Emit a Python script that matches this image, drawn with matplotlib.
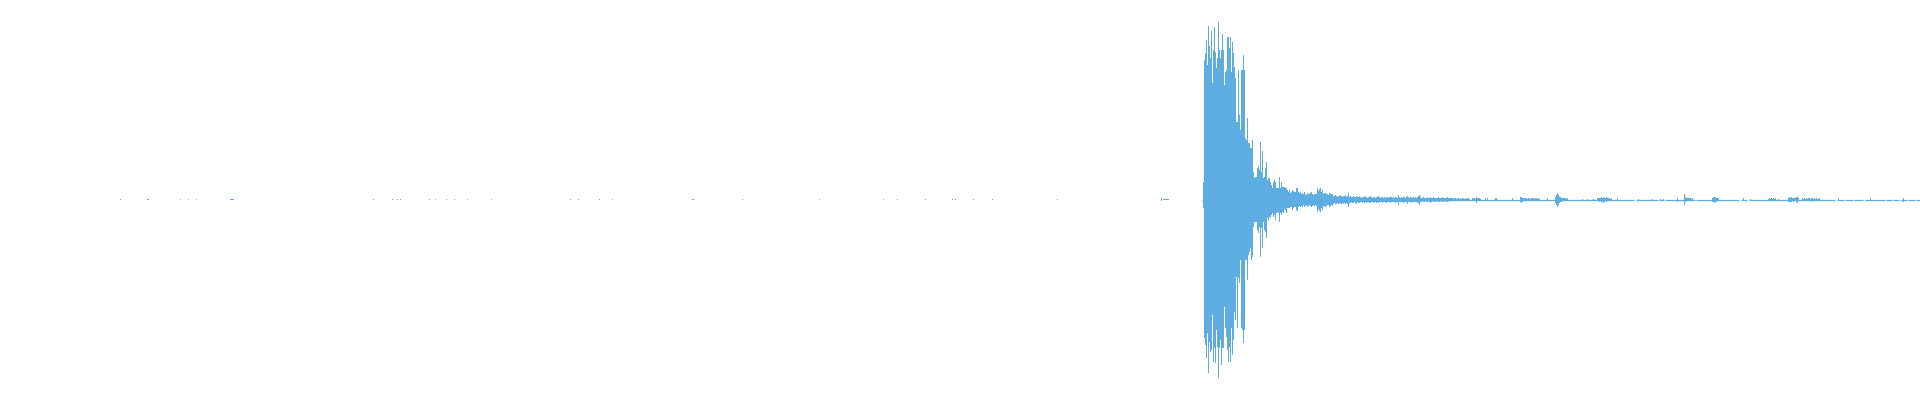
import matplotlib
matplotlib.use("Agg")
import matplotlib.pyplot as plt

# ---------------- data (waveform peaks per sample column, amplitude -1..1) ----------------
COLOR = "#5DADE2"
n_columns = 1920

# isolated tiny clicks before the main event: (column, width, amplitude)
click_x = [120, 147, 180, 188, 196, 230, 373, 392, 397, 400, 429, 435, 446, 454, 467,
           491, 570, 578, 599, 612, 692, 742, 819, 883, 897, 925, 952, 955, 973, 992,
           1057, 1161, 1163]
click_w = [1, 2, 1, 1, 1, 4, 1, 1, 1, 1, 1, 1, 1, 1, 1,
           1, 1, 1, 1, 1, 2, 1, 1, 1, 1, 1, 1, 1, 1, 1,
           1, 1, 6]
click_a = [0.003] * 31 + [0.008, 0.003]

# main burst: positive / negative peak per column starting at column 1203
burst_start = 1203
burst_max = [0.09, 0.70, 0.735, 0.80, 0.675, 0.87, 0.77, 0.71, 0.845, 0.585,
             0.75, 0.865, 0.74, 0.66, 0.71, 0.89, 0.75, 0.71, 0.75, 0.83,
             0.75, 0.575, 0.64, 0.65, 0.815, 0.815, 0.76, 0.815, 0.64, 0.79,
             0.735, 0.66, 0.61, 0.39, 0.39, 0.65, 0.425, 0.35, 0.65, 0.65,
             0.725, 0.65, 0.31, 0.30, 0.41, 0.285, 0.285, 0.26, 0.26, 0.30,
             0.14, 0.11, 0.115, 0.115, 0.16, 0.17, 0.15, 0.29, 0.14, 0.245,
             0.11, 0.115, 0.16, 0.19, 0.10, 0.11, 0.11, 0.09, 0.075, 0.06,
             0.09, 0.10, 0.09, 0.06, 0.06, 0.06, 0.115, 0.06, 0.09, 0.065,
             0.065, 0.065, 0.06, 0.06, 0.05, 0.04, 0.05, 0.035, 0.04, 0.05,
             0.045, 0.04, 0.04, 0.06, 0.057, 0.04, 0.035]
burst_min = [-0.04, -0.69, -0.725, -0.79, -0.665, -0.865, -0.71, -0.76, -0.75, -0.575,
             -0.81, -0.74, -0.815, -0.65, -0.735, -0.89, -0.74, -0.70, -0.825, -0.74,
             -0.74, -0.535, -0.64, -0.685, -0.75, -0.81, -0.735, -0.81, -0.64, -0.775,
             -0.70, -0.56, -0.60, -0.385, -0.64, -0.39, -0.415, -0.30, -0.64, -0.65,
             -0.715, -0.65, -0.30, -0.30, -0.40, -0.275, -0.26, -0.24, -0.30, -0.285,
             -0.135, -0.11, -0.11, -0.11, -0.15, -0.165, -0.135, -0.285, -0.14, -0.24,
             -0.11, -0.15, -0.16, -0.19, -0.09, -0.10, -0.085, -0.09, -0.075, -0.065,
             -0.085, -0.075, -0.10, -0.065, -0.06, -0.065, -0.11, -0.065, -0.075, -0.06,
             -0.065, -0.045, -0.05, -0.065, -0.04, -0.04, -0.04, -0.035, -0.035, -0.05,
             -0.04, -0.035, -0.035, -0.05, -0.057, -0.035, -0.03]

# decaying tail: symmetric peak per column starting at column 1300
tail_start = 1300
tail_amp = [0.036, 0.03, 0.035, 0.028, 0.036, 0.03, 0.025, 0.035, 0.03, 0.028,
            0.032, 0.036, 0.03, 0.025, 0.03, 0.028, 0.03, 0.06, 0.045, 0.055,
            0.06, 0.04, 0.05, 0.03, 0.032, 0.035, 0.03, 0.028, 0.025, 0.035,
            0.03, 0.028, 0.03, 0.02, 0.018, 0.022, 0.02, 0.015, 0.02, 0.018,
            0.022, 0.02, 0.015, 0.02, 0.018, 0.022, 0.015, 0.02, 0.035, 0.015,
            0.018, 0.012, 0.015, 0.018, 0.012, 0.015, 0.02, 0.012, 0.015, 0.018,
            0.012, 0.01, 0.015, 0.012, 0.018, 0.012, 0.015, 0.01, 0.012, 0.015,
            0.018, 0.012, 0.01, 0.015, 0.012, 0.01, 0.015, 0.012, 0.018, 0.012,
            0.01, 0.012, 0.015, 0.01, 0.012, 0.01, 0.015, 0.012, 0.01, 0.012,
            0.015, 0.012, 0.01, 0.012, 0.01, 0.015, 0.012, 0.01, 0.025, 0.012,
            0.01, 0.012, 0.01, 0.015, 0.012, 0.01, 0.012, 0.02, 0.012, 0.01,
            0.012, 0.015, 0.01, 0.012, 0.01, 0.012, 0.01, 0.015, 0.018, 0.025]

# later small events: start column and per-column peak amplitudes
event_start = [1420, 1472, 1485, 1487, 1495, 1512, 1520, 1524, 1547, 1555,
               1582, 1587, 1593, 1597, 1617, 1638, 1652, 1660, 1663, 1677,
               1684, 1712, 1743, 1750, 1768, 1778, 1788, 1802, 1838, 1870, 1903]
event_amps = [
    [0.012, 0.01, 0.008, 0.012, 0.01, 0.008, 0.01, 0.012, 0.008, 0.01,
     0.015, 0.01, 0.008, 0.012, 0.01, 0.008, 0.01, 0.008, 0.012, 0.01,
     0.008, 0.01, 0.012, 0.008, 0.01, 0.008, 0.01, 0.012, 0.008, 0.01,
     0.006, 0.008, 0.006, 0.005, 0.008, 0.006, 0.005, 0.006, 0.008, 0.005,
     0.006, 0.005, 0.008, 0.006, 0.005, 0.006, 0.005, 0.008, 0.006, 0.005],
    [0.008, 0.006, 0.008, 0.005, 0.015, 0.008, 0.006, 0.008, 0.005],
    [0.006], [0.006], [0.006, 0.006], [0.006],
    [0.012, 0.015, 0.01, 0.008],
    [0.006, 0.008, 0.006, 0.005, 0.006, 0.008, 0.005, 0.006, 0.008, 0.006,
     0.005, 0.006, 0.008, 0.005, 0.006, 0.005],
    [0.006],
    [0.015, 0.025, 0.035, 0.025, 0.015, 0.012, 0.01, 0.008, 0.006, 0.008, 0.006, 0.005, 0.006],
    [0.005], [0.005], [0.005],
    [0.006, 0.008, 0.01, 0.008, 0.012, 0.01, 0.015, 0.01, 0.008, 0.012, 0.006, 0.008, 0.006, 0.005, 0.006],
    [0.006], [0.005], [0.005], [0.005], [0.005], [0.01],
    [0.028, 0.012, 0.008, 0.008, 0.006, 0.006, 0.006, 0.005, 0.006],
    [0.01, 0.012, 0.015, 0.012, 0.01, 0.008, 0.006],
    [0.006], [0.005],
    [0.005, 0.006, 0.005, 0.006, 0.005, 0.006, 0.005, 0.006],
    [0.005],
    [0.01, 0.012, 0.01, 0.012, 0.008, 0.01, 0.008, 0.006, 0.012, 0.015, 0.008],
    [0.006, 0.005, 0.006, 0.005, 0.006, 0.005, 0.008, 0.006, 0.005, 0.01,
     0.006, 0.005, 0.006, 0.005, 0.006, 0.005, 0.005, 0.006],
    [0.006], [0.008], [0.01],
]

# zero line after the event starts, with short gaps where samples are exactly silent
line_start = 1202
line_gaps = [(1634, 1636), (1658, 1659), (1664, 1665), (1695, 1696), (1739, 1741),
             (1747, 1749), (1835, 1837), (1844, 1845), (1853, 1854), (1863, 1865),
             (1885, 1886), (1892, 1893), (1899, 1900), (1907, 1908), (1915, 1916)]

# ---------------- build columns ----------------
xs, bottoms, heights, widths = [], [], [], []


def add(x, lo, hi, w=1):
    xs.append(x)
    bottoms.append(lo)
    heights.append(hi - lo)
    widths.append(w)


for x, w, a in zip(click_x, click_w, click_a):
    add(x, -a, a, w)
for i, (hi, lo) in enumerate(zip(burst_max, burst_min)):
    add(burst_start + i, lo, hi)
for i, a in enumerate(tail_amp):
    add(tail_start + i, -a, a)
for s, amps in zip(event_start, event_amps):
    for i, a in enumerate(amps):
        add(s + i, -a, a)

# ---------------- draw ----------------
fig = plt.figure(figsize=(19.2, 4), dpi=100)
ax = fig.add_axes([0, 0, 1, 1])
ax.set_xlim(0, n_columns)
ax.set_ylim(-1.0025, 0.9975)
ax.axis("off")

ax.bar(xs, heights, width=widths, bottom=bottoms, align="edge",
       color=COLOR, linewidth=0, antialiased=False)

# zero line segments
segs = []
cur = line_start
for g0, g1 in line_gaps:
    segs.append((cur, g0))
    cur = g1
segs.append((cur, n_columns))
for a, b in segs:
    ax.hlines(0, a, b, color=COLOR, linewidth=0.9)

fig.savefig("out.png", dpi=100, facecolor="white")
